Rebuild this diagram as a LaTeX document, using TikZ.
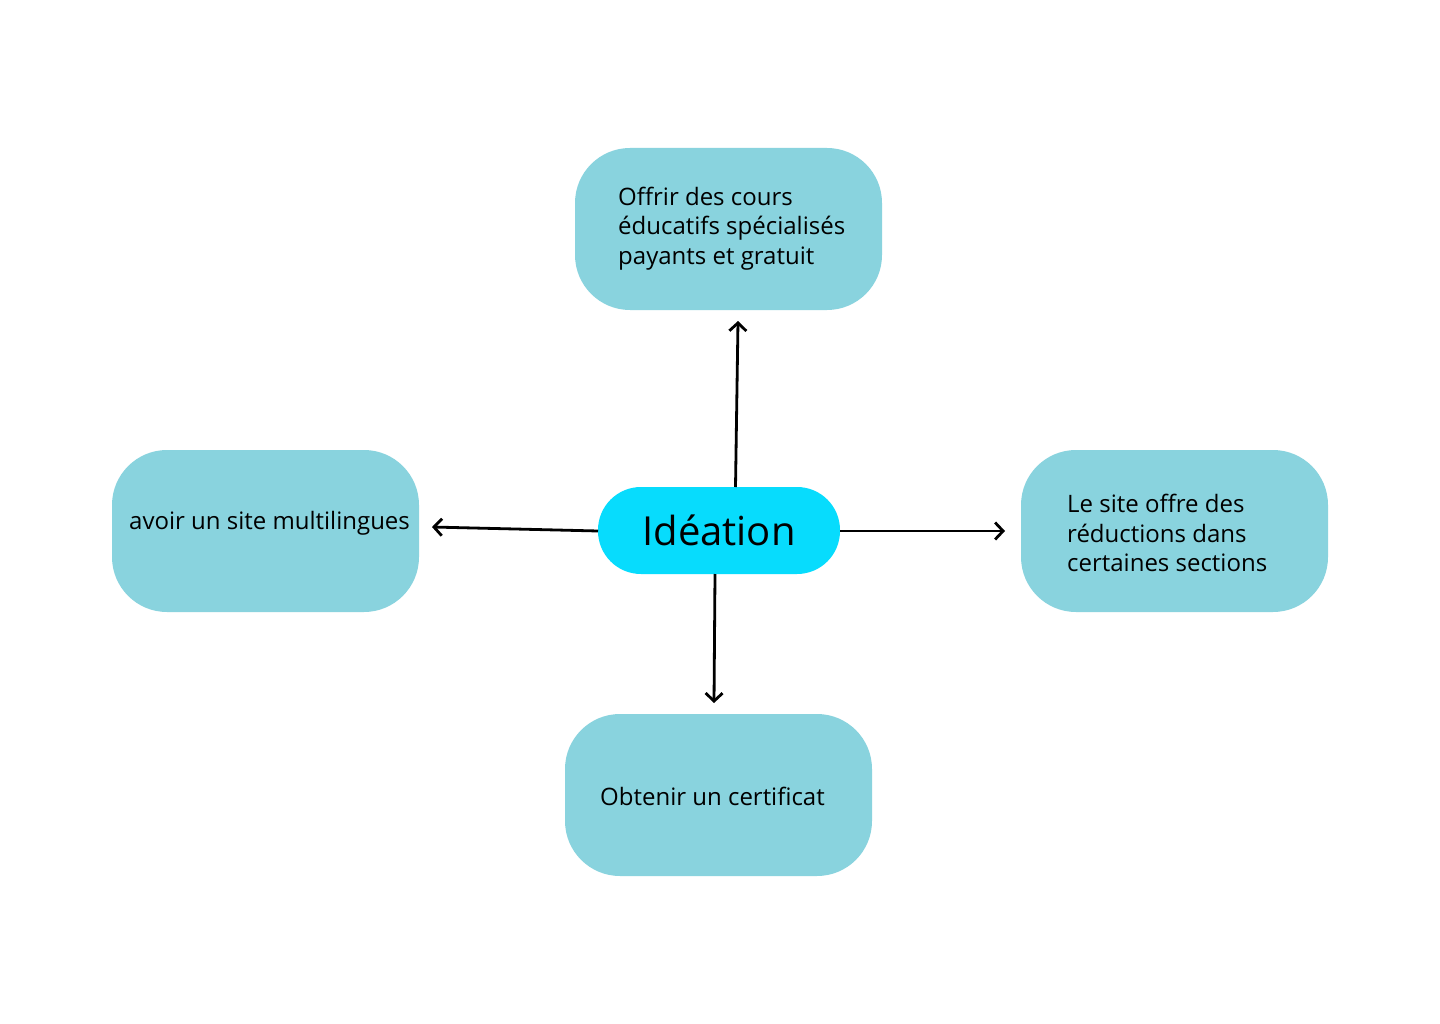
\documentclass[tikz,border=0pt]{standalone}
\usepackage{fontspec}
\setmainfont{Open Sans}
\usetikzlibrary{arrows.meta}
\definecolor{boxc}{HTML}{89D3DE}
\definecolor{centc}{HTML}{07DCFD}
\begin{document}
\begin{tikzpicture}[x=1pt,y=-1pt,
  idea/.style={fill=boxc, draw=none, rounded corners=55pt},
  txt/.style={anchor=west, align=left, inner sep=0pt, font=\fontsize{24}{29.5}\selectfont, text=black},
  conn/.style={draw=black, line width=2.8pt, -{Straight Barb[length=8pt,width=17pt,line width=2.8pt]}}]
\useasboundingbox (0,0) rectangle (1440,1024);
\fill[white] (0,0) rectangle (1440,1024);
% boxes
\path[idea] (575,148) rectangle (882,310);
\path[idea] (112,450) rectangle (419,612);
\path[idea] (1021,450) rectangle (1328,612);
\path[idea] (565,714) rectangle (872,876);
\node[fill=centc, rounded corners=43pt, minimum width=242pt, minimum height=87pt, inner sep=0pt,
  font=\fontsize{40}{40}\selectfont] (c) at (719,530.5) {Idéation};
% texts
\node[txt] (t1) at (618,228.5) {Offrir des cours\\éducatifs spécialisés\\payants et gratuit};
\node[txt] (t2) at (129,523.5) {avoir un site multilingues};
\node[txt] (t3) at (1067,533) {Le site offre des\\réductions dans\\certaines sections};
\node[txt] (t4) at (600,796) {Obtenir un certificat};
% arrow ends
\coordinate (eT) at (738,321);
\coordinate (eL) at (432,527);
\coordinate (eR) at (1005,531);
\coordinate (eB) at (714,703);
\coordinate (sT) at (735.5,487);
\coordinate (sL) at (598,531);
\coordinate (sR) at (840,531);
\coordinate (sB) at (715,574);
\draw[conn] (sT) -- (eT);
\draw[conn] (sL) -- (eL);
\draw[conn] (sR) -- (eR);
\draw[conn] (sB) -- (eB);
\end{tikzpicture}
\end{document}
